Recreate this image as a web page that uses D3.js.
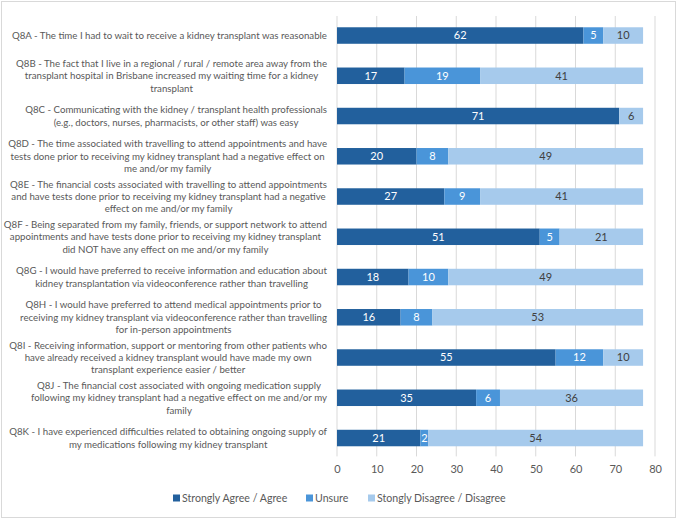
<!DOCTYPE html>
<html>
<head>
<meta charset="utf-8">
<script src="https://cdn.jsdelivr.net/npm/d3@7"></script>
<style>
  body { margin: 0; background: #fff; }
  svg { display: block; font-family: Lato, "Open Sans", sans-serif; }
</style>
</head>
<body>
<div id="chart"></div>
<script>
// question labels, already broken into lines as in the source chart
const questions = ['Q8A', 'Q8B', 'Q8C', 'Q8D', 'Q8E', 'Q8F', 'Q8G', 'Q8H', 'Q8I', 'Q8J', 'Q8K'];
const questionLines = [
    ['Q8A - The time I had to wait to receive a kidney transplant was reasonable'],
    ['Q8B - The fact that I live in a regional / rural / remote area away from the', 'transplant hospital in Brisbane increased my waiting time for a kidney', 'transplant'],
    ['Q8C - Communicating with the kidney / transplant health professionals', '(e.g., doctors, nurses, pharmacists, or other staff) was easy'],
    ['Q8D - The time associated with travelling to attend appointments and have', 'tests done prior to receiving my kidney transplant had a negative effect on', 'me and/or my family'],
    ['Q8E - The financial costs associated with travelling to attend appointments', 'and have tests done prior to receiving my kidney transplant had a negative', 'effect on me and/or my family'],
    ['Q8F - Being separated from my family, friends, or support network to attend', 'appointments and have tests done prior to receiving my kidney transplant', 'did NOT have any effect on me and/or my family'],
    ['Q8G - I would have preferred to receive information and education about', 'kidney transplantation via videoconference rather than travelling'],
    ['Q8H - I would have preferred to attend medical appointments prior to', 'receiving my kidney transplant via videoconference rather than travelling', 'for in-person appointments'],
    ['Q8I - Receiving information, support or mentoring from other patients who', 'have already received a kidney transplant would have made my own', 'transplant experience easier / better'],
    ['Q8J - The financial cost associated with ongoing medication supply', 'following my kidney transplant had a negative effect on me and/or my', 'family'],
    ['Q8K - I have experienced difficulties related to obtaining ongoing supply of', 'my medications following my kidney transplant']
];

const seriesNames = ['Strongly Agree / Agree', 'Unsure', 'Stongly Disagree / Disagree'];
const agree    = [62, 17, 71, 20, 27, 51, 18, 16, 55, 35, 21];
const unsure   = [5, 19, 0, 8, 9, 5, 10, 8, 12, 6, 2];
const disagree = [10, 41, 6, 49, 41, 21, 49, 53, 10, 36, 54];
const xTicks = [0, 10, 20, 30, 40, 50, 60, 70, 80];

const colors = ['#22609d', '#4a95d9', '#a6caec'];
const labelColors = ['#ffffff', '#ffffff', '#404040'];

const width = 677, height = 519;
const margin = { top: 15.4, left: 337 };
const plotWidth = 318;
const bandRange = 442.75;
const gridBottom = 441;

const svg = d3.select('#chart').append('svg')
    .attr('width', width)
    .attr('height', height);

// outer chart border
svg.append('rect')
    .attr('x', 1.5).attr('y', 1.5)
    .attr('width', width - 3).attr('height', height - 3)
    .attr('fill', '#fff')
    .attr('stroke', '#d9d9d9');

const g = svg.append('g').attr('transform', `translate(${margin.left}, ${margin.top})`);

const x = d3.scaleLinear().domain([0, 80]).range([0, plotWidth]);
const y = d3.scaleBand().domain(questions).range([0, bandRange]).paddingInner(0.59).paddingOuter(0.295);

// gridlines
g.selectAll('.grid')
    .data(xTicks)
    .enter()
    .append('line')
    .attr('x1', d => x(d)).attr('x2', d => x(d))
    .attr('y1', 0.6).attr('y2', gridBottom)
    .attr('stroke', '#d9d9d9')
    .attr('stroke-width', 1);

// x axis
const xAxis = g.append('g')
    .attr('transform', `translate(0, ${gridBottom})`)
    .call(d3.axisBottom(x).tickValues(xTicks).tickSize(0).tickPadding(9));
xAxis.select('.domain').remove();
xAxis.selectAll('text')
    .attr('fill', '#595959')
    .style('font-size', '11px')
    .style('font-family', 'Lato, "Open Sans", sans-serif');

// stacked data
const rows = questions.map((q, i) => ({ q, values: [agree[i], unsure[i], disagree[i]] }));
const stack = d3.stack().keys([0, 1, 2]).value((d, k) => d.values[k]);
const layers = stack(rows);

layers.forEach((layer, k) => {
    const segs = g.append('g');
    segs.selectAll('rect')
        .data(layer)
        .enter()
        .append('rect')
        .attr('x', d => x(d[0]))
        .attr('y', d => y(d.data.q))
        .attr('width', d => x(d[1]) - x(d[0]))
        .attr('height', y.bandwidth())
        .attr('fill', colors[k]);

    segs.selectAll('text')
        .data(layer.filter(d => d[1] - d[0] > 0))
        .enter()
        .append('text')
        .attr('x', d => (x(d[0]) + x(d[1])) / 2)
        .attr('y', d => y(d.data.q) + y.bandwidth() / 2)
        .attr('dy', '0.36em')
        .attr('text-anchor', 'middle')
        .attr('fill', labelColors[k])
        .style('font-size', '11px')
        .text(d => d[1] - d[0]);
});

// category labels: centred block, right edge near the plot
const labelRight = margin.left - 10;
const lineH = 12.4;
questions.forEach((q, i) => {
    const lines = questionLines[i];
    const t = svg.append('text')
        .attr('fill', '#595959')
        .style('font-size', '9.7px')
        .attr('text-anchor', 'middle');
    const cy = margin.top + y(q) + y.bandwidth() / 2;
    const y0 = cy - (lines.length - 1) * lineH / 2;
    lines.forEach((line, j) => {
        t.append('tspan')
            .attr('y', y0 + j * lineH)
            .attr('dy', '0.35em')
            .text(line);
    });
    let maxW = 0;
    t.selectAll('tspan').each(function () {
        maxW = Math.max(maxW, this.getComputedTextLength());
    });
    t.selectAll('tspan').attr('x', labelRight - maxW / 2);
});

// legend
const legendX = [173, 306, 368];
const legend = svg.append('g').attr('transform', 'translate(0, 498)');
seriesNames.forEach((name, k) => {
    legend.append('rect')
        .attr('x', legendX[k]).attr('y', -3.5)
        .attr('width', 7).attr('height', 7)
        .attr('fill', colors[k]);
    legend.append('text')
        .attr('x', legendX[k] + 9)
        .attr('y', 0)
        .attr('dy', '0.35em')
        .attr('fill', '#595959')
        .style('font-size', '10.6px')
        .text(name);
});
</script>
</body>
</html>
